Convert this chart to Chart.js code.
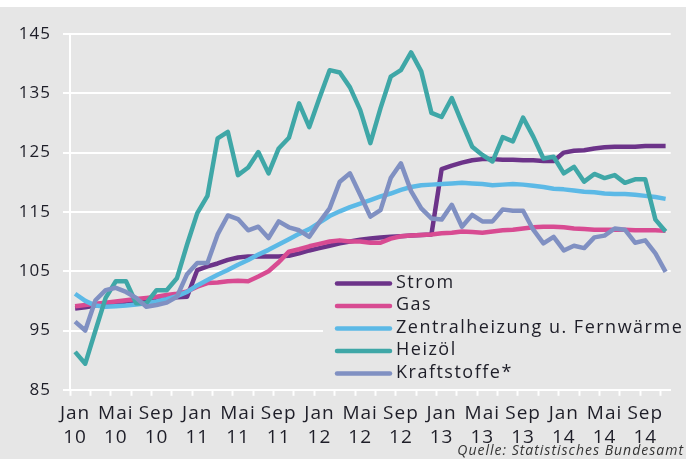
<!DOCTYPE html>
<html>
<head>
<meta charset="utf-8">
<script src="https://cdn.jsdelivr.net/npm/chart.js@4.4.1/dist/chart.umd.min.js"></script>
<style>
  html, body { margin: 0; padding: 0; background: #fff; }
  #wrap { width: 686px; height: 459px; }
</style>
</head>
<body>
<div id="wrap"><canvas id="chart" width="686" height="459"></canvas></div>
<script>
// month / year names for the category axis (Jan 2010 - Nov 2014)
const monthNames = ['Jan', 'Feb', 'Mrz', 'Apr', 'Mai', 'Jun', 'Jul', 'Aug', 'Sep', 'Okt', 'Nov', 'Dez'];
const years = ['10', '11', '12', '13', '14'];
const yTickValues = [85, 95, 105, 115, 125, 135, 145];

const seriesNames = ['Strom', 'Gas', 'Zentralheizung u. Fernwärme', 'Heizöl', 'Kraftstoffe*'];
const seriesColors = ['#6c3389', '#d84b92', '#5cb9e6', '#3fa7a7', '#8090c2'];

const strom = [
  98.7, 98.9, 99.2, 99.5, 99.7, 99.9, 100.0, 100.1, 100.3, 100.5, 100.6, 100.7,
  105.2, 105.8, 106.3, 106.9, 107.3, 107.5, 107.5, 107.5, 107.5, 107.6, 108.0, 108.5,
  108.9, 109.3, 109.7, 110.0, 110.3, 110.5, 110.7, 110.8, 110.9, 111.0, 111.1, 111.2,
  122.2, 122.8, 123.3, 123.7, 123.9, 123.9, 123.8, 123.8, 123.7, 123.7, 123.6, 123.6,
  125.0, 125.3, 125.4, 125.7, 125.9, 126.0, 126.0, 126.0, 126.1, 126.1, 126.1
];
const gas = [
  99.1, 99.3, 99.5, 99.7, 99.9, 100.1, 100.3, 100.5, 100.7, 101.0, 101.2, 101.6,
  102.4, 103.0, 103.1, 103.3, 103.4, 103.3, 104.1, 105.0, 106.5, 108.3, 108.7, 109.2,
  109.6, 110.0, 110.2, 110.0, 110.0, 109.8, 109.8, 110.5, 110.9, 111.0, 111.1, 111.2,
  111.4, 111.5, 111.7, 111.6, 111.5, 111.7, 111.9, 112.0, 112.2, 112.4, 112.5, 112.5,
  112.4, 112.2, 112.1, 112.0, 112.0, 112.0, 112.0, 111.9, 111.9, 111.9, 111.8
];
const zentralheizung = [
  101.2, 100.0, 99.2, 99.0, 99.1, 99.2, 99.4, 99.6, 99.9, 100.3, 100.8, 101.5,
  102.6, 103.5, 104.4, 105.2, 106.1, 106.9, 107.8, 108.6, 109.5, 110.4, 111.3, 112.1,
  113.2, 114.3, 115.1, 115.8, 116.4, 117.0, 117.6, 118.1, 118.7, 119.2, 119.5, 119.6,
  119.7, 119.8, 119.9, 119.8, 119.7, 119.5, 119.6, 119.7, 119.6, 119.4, 119.2, 118.9,
  118.8, 118.6, 118.4, 118.3, 118.1, 118.0, 118.0, 117.9, 117.7, 117.5, 117.2
];
const heizoel = [
  91.4, 89.4, 95.0, 100.5, 103.3, 103.3, 99.6, 99.6, 101.8, 101.8, 103.8, 109.5,
  114.8, 117.7, 127.4, 128.5, 121.2, 122.5, 125.1, 121.5, 125.7, 127.5, 133.3, 129.3,
  134.2, 138.9, 138.5, 136.0, 132.2, 126.6, 132.5, 137.8, 138.9, 141.9, 138.7, 131.7,
  131.0, 134.2, 130.0, 126.0, 124.6, 123.5, 127.6, 126.9, 130.9, 127.7, 124.0, 124.3,
  121.5, 122.6, 120.1, 121.4, 120.7, 121.2, 119.9, 120.5, 120.5, 113.7, 111.7
];
const kraftstoffe = [
  96.5, 95.0, 100.1, 101.8, 102.2, 101.5, 100.5, 99.0, 99.3, 99.7, 100.7, 104.5,
  106.4, 106.4, 111.2, 114.4, 113.8, 111.9, 112.5, 110.6, 113.4, 112.4, 111.9, 110.8,
  113.3, 115.6, 120.1, 121.5, 117.9, 114.2, 115.3, 120.7, 123.2, 118.5, 115.6, 113.9,
  113.7, 116.2, 112.5, 114.5, 113.4, 113.4, 115.4, 115.2, 115.2, 112.0, 109.7, 110.8,
  108.5, 109.3, 108.9, 110.7, 111.0, 112.2, 112.0, 109.8, 110.2, 108.0, 104.9
];

const categories = [];
years.forEach(function (y) {
  monthNames.forEach(function (m) {
    if (categories.length < strom.length) categories.push(m + ' ' + y);
  });
});

const seriesData = [strom, gas, zentralheizung, heizoel, kraftstoffe];

const FONT = '"Open Sans", sans-serif';
const BG = '#e6e6e6';
const TEXT = '#1e1e28';

// grey background with white strip at the top, legend + source drawn by hand
const bgPlugin = {
  id: 'bg',
  beforeDraw(chart) {
    const c = chart.ctx;
    c.save();
    c.fillStyle = BG;
    c.fillRect(0, 7, chart.width, chart.height - 7);
    c.restore();
    c.letterSpacing = '1px';
  },
  beforeDatasetsDraw(chart) {
    // legend box hides the grid lines behind it
    const c = chart.ctx;
    c.save();
    c.fillStyle = BG;
    c.fillRect(323, 276, chart.width - 323, 110);
    c.restore();
  },
  afterDraw(chart) {
    const c = chart.ctx;
    c.save();
    seriesNames.forEach(function (name, i) {
      const y = 283.5 + i * 22.5;
      c.strokeStyle = seriesColors[i];
      c.lineWidth = 4.5;
      c.lineCap = 'round';
      c.beginPath();
      c.moveTo(337, y);
      c.lineTo(390, y);
      c.stroke();
      c.fillStyle = TEXT;
      c.font = '18px ' + FONT;
      c.letterSpacing = '1.5px';
      c.textBaseline = 'middle';
      c.textAlign = 'left';
      c.fillText(name, 396, y - 1);
    });
    c.font = 'italic 14px ' + FONT;
    c.letterSpacing = '1px';
    c.fillStyle = '#333';
    c.textAlign = 'right';
    c.textBaseline = 'alphabetic';
    c.fillText('Quelle: Statistisches Bundesamt', 684, 455);
    c.restore();
  }
};

new Chart(document.getElementById('chart'), {
  type: 'line',
  data: {
    labels: categories,
    datasets: seriesData.map(function (d, i) {
      return {
        label: seriesNames[i],
        data: d,
        borderColor: seriesColors[i],
        backgroundColor: seriesColors[i],
        borderWidth: 4.5,
        pointRadius: 0,
        tension: 0,
        borderJoinStyle: 'round',
        order: seriesData.length - i
      };
    })
  },
  options: {
    responsive: false,
    animation: false,
    layout: { padding: { top: 34, right: 15.3, left: 0, bottom: 0 } },
    plugins: {
      legend: { display: false },
      tooltip: { enabled: false }
    },
    scales: {
      x: {
        type: 'category',
        offset: true,
        grid: {
          offset: true,
          drawOnChartArea: false,
          drawTicks: true,
          tickLength: 6,
          tickWidth: 2,
          tickColor: function (ctx) { return ctx.index % 2 === 0 ? '#ffffff' : 'rgba(0,0,0,0)'; }
        },
        border: { display: true, color: '#ffffff', width: 2 },
        ticks: {
          autoSkip: false,
          maxRotation: 0,
          minRotation: 0,
          padding: 6,
          color: TEXT,
          font: { family: FONT, size: 19, lineHeight: 1.25 },
          callback: function (val, idx) {
            return idx % 4 === 0 ? [monthNames[idx % 12], years[Math.floor(idx / 12)]] : '';
          }
        },
        afterFit: function (scale) { scale.height = 459 - 389.8; }
      },
      y: {
        min: 85,
        max: 145,
        afterBuildTicks: function (scale) {
          scale.ticks = yTickValues.map(function (v) { return { value: v }; });
        },
        grid: {
          color: '#ffffff',
          lineWidth: 2,
          tickLength: 7,
          tickColor: '#ffffff'
        },
        border: { display: true, color: '#ffffff', width: 2 },
        ticks: {
          padding: 12,
          color: TEXT,
          font: { family: FONT, size: 17 }
        },
        afterFit: function (scale) { scale.width = 70; }
      }
    }
  },
  plugins: [bgPlugin]
});
</script>
</body>
</html>
